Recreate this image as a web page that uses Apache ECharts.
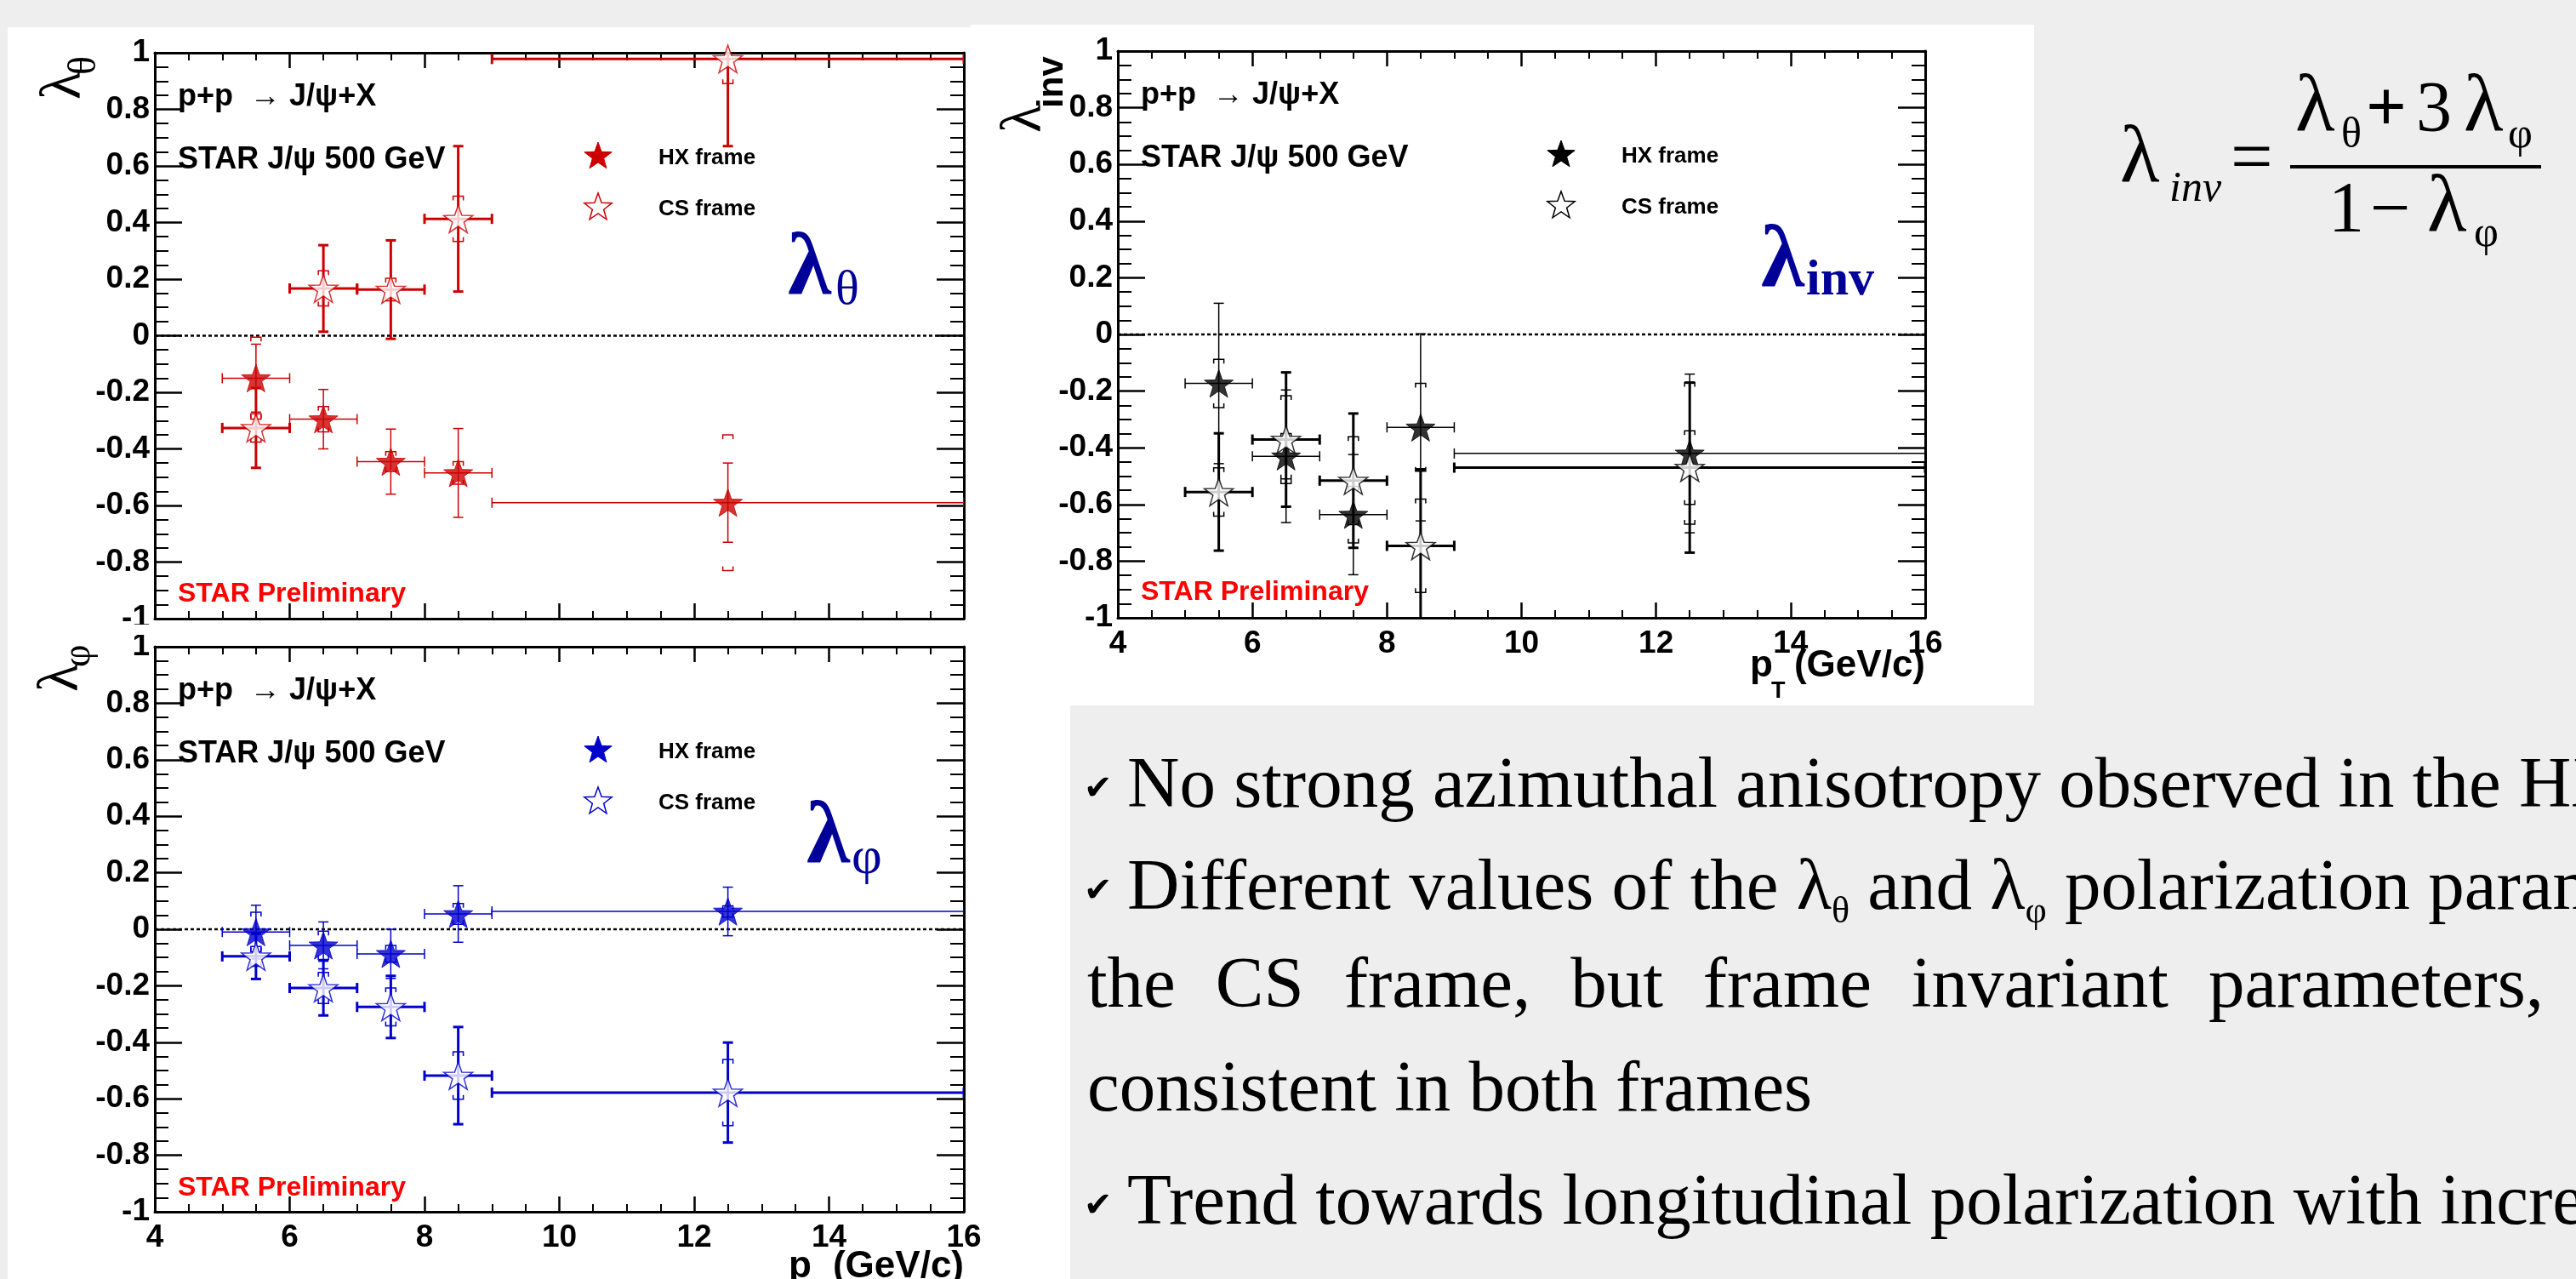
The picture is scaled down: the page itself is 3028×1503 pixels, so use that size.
<!DOCTYPE html>
<html>
<head>
<meta charset="utf-8">
<title>STAR J/psi polarization 500 GeV</title>
<script src="https://cdn.jsdelivr.net/npm/echarts@6/dist/echarts.min.js"></script>
<style>
html, body { margin: 0; padding: 0; background: #eeeeee; }
#main { width: 3028px; height: 1503px; }
</style>
</head>
<body>
<div id="main"></div>
<script>
// pT bins (GeV/c)
const ptCenter = [5.5, 6.5, 7.5, 8.5, 12.5];
const ptLow = [5, 6, 7, 8, 9];
const ptHigh = [6, 7, 8, 9, 16];

// lambda_theta
const thetaHX = [-0.150, -0.295, -0.445, -0.485, -0.590];
const thetaHXStat = [0.120, 0.105, 0.115, 0.157, 0.140];
const thetaHXSys = [0.145, 0.045, 0.035, 0.040, 0.240];
const thetaCS = [-0.326, 0.167, 0.163, 0.413, 0.978];
const thetaCSStat = [0.141, 0.153, 0.174, 0.257, 0.308];
const thetaCSSys = [0.050, 0.062, 0.040, 0.080, 0.087];

// lambda_phi
const phiHX = [-0.010, -0.057, -0.087, 0.054, 0.063];
const phiHXStat = [0.095, 0.083, 0.087, 0.100, 0.086];
const phiHXSys = [0.070, 0.050, 0.030, 0.037, 0.020];
const phiCS = [-0.096, -0.208, -0.275, -0.518, -0.578];
const phiCSStat = [0.080, 0.097, 0.110, 0.172, 0.177];
const phiCSSys = [0.035, 0.055, 0.067, 0.084, 0.117];

// lambda_inv
const invHX = [-0.173, -0.430, -0.636, -0.328, -0.420];
const invHXStat = [0.283, 0.234, 0.212, 0.330, 0.280];
const invHXSys = [0.085, 0.080, 0.100, 0.155, 0.250];
const invCS = [-0.556, -0.371, -0.516, -0.746, -0.470];
const invCSStat = [0.207, 0.237, 0.237, 0.270, 0.300];
const invCSSys = [0.085, 0.155, 0.155, 0.165, 0.130];

const xMin = 4, xMax = 16, xStep = 2;
const yMin = -1, yMax = 1, yStep = 0.2;

const plots = [
    { left: 182, top: 62, width: 951, height: 665, color: '#cc0000', showX: false,
      hx: thetaHX, hxStat: thetaHXStat, hxSys: thetaHXSys, cs: thetaCS, csStat: thetaCSStat, csSys: thetaCSSys },
    { left: 182, top: 760, width: 951, height: 664, color: '#0000cc', showX: true,
      hx: phiHX, hxStat: phiHXStat, hxSys: phiHXSys, cs: phiCS, csStat: phiCSStat, csSys: phiCSSys },
    { left: 1314, top: 60, width: 949, height: 666, color: '#000000', showX: true,
      hx: invHX, hxStat: invHXStat, hxSys: invHXSys, cs: invCS, csStat: invCSStat, csSys: invCSSys }
];

// ROOT-like star marker
function starPts(cx, cy, R, r) {
    const pts = [];
    for (let k = 0; k < 10; k++) {
        const a = -Math.PI / 2 + k * Math.PI / 5;
        const rr = k % 2 === 0 ? R : r;
        pts.push([cx + rr * Math.cos(a), cy + rr * Math.sin(a)]);
    }
    return pts;
}
const starPath = 'path://M' + starPts(50, 50, 50, 20).map(p => p[0].toFixed(2) + ',' + p[1].toFixed(2)).join(' L') + ' Z';

// text helpers
const measureCtx = document.createElement('canvas').getContext('2d');
function fontOf(size, o) {
    return (o.italic ? 'italic ' : '') + (o.weight || 'normal') + ' ' + size + 'px "' + (o.family || 'Liberation Sans') + '"';
}
function textW(str, size, o) {
    measureCtx.font = fontOf(size, o || {});
    return measureCtx.measureText(str).width;
}
function txt(x, base, str, size, o) {
    o = o || {};
    const align = o.align || 'left';
    return {
        type: 'text', x: x, y: base - 0.34 * size, z: o.z || 20, silent: true,
        style: {
            text: str, font: fontOf(size, o), fill: o.color || '#000',
            align: align, textAlign: align, verticalAlign: 'middle', textVerticalAlign: 'middle'
        }
    };
}
// a row of text pieces with their own size and baseline shift
function runs(x, base, parts) {
    const out = [];
    let cx = x;
    parts.forEach(p => {
        const o = p[3] || {};
        out.push(txt(cx, base + p[2], p[0], p[1], o));
        cx += textW(p[0], p[1], o) + (o.after || 0);
    });
    return out;
}

function axesFor(g, p) {
    const axisLine = { show: true, onZero: false, lineStyle: { color: '#000', width: 3 } };
    const label = { color: '#000', fontFamily: 'Liberation Sans', fontWeight: 'bold', fontSize: 37 };
    const xa = (pos, show) => ({
        type: 'value', gridIndex: g, position: pos, min: xMin, max: xMax, interval: xStep,
        axisLine: axisLine, splitLine: { show: false },
        axisTick: { inside: true, length: 18, lineStyle: { color: '#000', width: 2.5 } },
        minorTick: { show: true, splitNumber: 4, length: 9, lineStyle: { color: '#000', width: 2 } },
        axisLabel: Object.assign({ show: show, margin: 12 }, label)
    });
    const ya = (pos, show) => ({
        type: 'value', gridIndex: g, position: pos, min: yMin, max: yMax, interval: yStep,
        axisLine: axisLine, splitLine: { show: false },
        axisTick: { inside: true, length: 32, lineStyle: { color: '#000', width: 2.5 } },
        minorTick: { show: true, splitNumber: 4, length: 16, lineStyle: { color: '#000', width: 2 } },
        axisLabel: Object.assign({ show: show, margin: 6 }, label)
    });
    return { x: [xa('bottom', p.showX), xa('top', false)], y: [ya('left', true), ya('right', false)] };
}

function errorSeries(g, vals, stat, sys, color, width) {
    return {
        type: 'custom', xAxisIndex: 2 * g, yAxisIndex: 2 * g, clip: true, silent: true, z: 3,
        encode: { x: 0, y: 1 },
        data: ptCenter.map((x, i) => [x, vals[i], ptLow[i], ptHigh[i], stat[i], sys[i]]),
        renderItem: function (params, api) {
            const x = api.value(0), y = api.value(1);
            const c = api.coord([x, y]);
            const l = api.coord([api.value(2), y]);
            const r = api.coord([api.value(3), y]);
            const st = api.coord([x, y + api.value(4)]);
            const sb = api.coord([x, y - api.value(4)]);
            const yt = api.coord([x, y + api.value(5)]);
            const yb = api.coord([x, y - api.value(5)]);
            const thick = { stroke: color, lineWidth: width, fill: null };
            const thin = { stroke: color, lineWidth: 1.5, fill: null };
            const seg = (x1, y1, x2, y2, s) => ({ type: 'line', shape: { x1: x1, y1: y1, x2: x2, y2: y2 }, style: s });
            const cap = 6, hcap = 6, bw = 6, leg = 5;
            return {
                type: 'group',
                children: [
                    seg(l[0], c[1], r[0], c[1], thick),
                    seg(l[0], c[1] - hcap, l[0], c[1] + hcap, thick),
                    seg(r[0], c[1] - hcap, r[0], c[1] + hcap, thick),
                    seg(c[0], st[1], c[0], sb[1], thick),
                    seg(c[0] - cap, st[1], c[0] + cap, st[1], thick),
                    seg(c[0] - cap, sb[1], c[0] + cap, sb[1], thick),
                    { type: 'polyline', shape: { points: [[c[0] - bw, yt[1] + leg], [c[0] - bw, yt[1]], [c[0] + bw, yt[1]], [c[0] + bw, yt[1] + leg]] }, style: thin },
                    { type: 'polyline', shape: { points: [[c[0] - bw, yb[1] - leg], [c[0] - bw, yb[1]], [c[0] + bw, yb[1]], [c[0] + bw, yb[1] - leg]] }, style: thin }
                ]
            };
        }
    };
}

function markerSeries(g, vals, color, open) {
    return {
        type: 'scatter', xAxisIndex: 2 * g, yAxisIndex: 2 * g, silent: true, z: 5,
        symbol: starPath, symbolSize: 34, symbolKeepAspect: true,
        itemStyle: open ? { color: '#ffffff', borderColor: color, borderWidth: 1.5 } : { color: color, borderColor: color, borderWidth: 1 },
        data: ptCenter.map((x, i) => [x, vals[i]])
    };
}

const grid = [], xAxis = [], yAxis = [], series = [];
plots.forEach((p, g) => {
    grid.push({ left: p.left, top: p.top, width: p.width, height: p.height });
    const ax = axesFor(g, p);
    xAxis.push(ax.x[0], ax.x[1]);
    yAxis.push(ax.y[0], ax.y[1]);
    series.push({
        type: 'line', xAxisIndex: 2 * g, yAxisIndex: 2 * g, silent: true, symbol: 'none', z: 2,
        data: [[xMin, 0], [xMax, 0]],
        lineStyle: { color: '#000', width: 2.5, type: [4, 3] }
    });
    series.push(errorSeries(g, p.hx, p.hxStat, p.hxSys, p.color, 1.5));
    series.push(errorSeries(g, p.cs, p.csStat, p.csSys, p.color, 3));
    series.push(markerSeries(g, p.hx, p.color, false));
    series.push(markerSeries(g, p.cs, p.color, true));
});

// ---- graphic annotations ----
const els = [];
// white picture panels on the grey slide
els.push({ type: 'rect', z: -10, silent: true, shape: { x: 9, y: 32, width: 1132, height: 1471 }, style: { fill: '#ffffff' } });
els.push({ type: 'rect', z: -10, silent: true, shape: { x: 1141, y: 29, width: 1250, height: 800 }, style: { fill: '#ffffff' } });
els.push({ type: 'rect', z: -10, silent: true, shape: { x: 1141, y: 829, width: 117, height: 674 }, style: { fill: '#ffffff' } });
// lower picture overlaps the bottom edge of the upper one
els.push({ type: 'rect', z: 50, silent: true, shape: { x: 9, y: 734, width: 168, height: 12 }, style: { fill: '#ffffff' } });

const navy = '#000099';
plots.forEach((p, g) => {
    const L = p.left, T = p.top;
    els.push(txt(L + 27, T + 64, 'p+p  \u2192 J/\u03c8+X', 36, { weight: 'bold' }));
    els.push(txt(L + 27, T + 138, 'STAR J/\u03c8 500 GeV', 36, { weight: 'bold' }));
    els.push({ type: 'polygon', z: 20, silent: true, shape: { points: starPts(L + 521, T + 122, 17, 7) }, style: { fill: p.color, stroke: p.color, lineWidth: 1 } });
    els.push({ type: 'polygon', z: 20, silent: true, shape: { points: starPts(L + 521, T + 182, 17, 7) }, style: { fill: '#fff', stroke: p.color, lineWidth: 1.5 } });
    els.push(txt(L + 592, T + 133, 'HX frame', 26, { weight: 'bold' }));
    els.push(txt(L + 592, T + 193, 'CS frame', 26, { weight: 'bold' }));
    els.push(txt(L + 27, T + 647, 'STAR Preliminary', 32, { weight: 'bold', color: '#ff0000' }));
});
// big coloured labels
els.push(txt(926, 354, '\u03bb', 104, { family: 'Liberation Serif', weight: 'bold', color: navy }));
els.push(txt(982, 361, '\u03b8', 58, { family: 'Liberation Serif', color: navy }));
els.push(txt(948, 1022, '\u03bb', 104, { family: 'Liberation Serif', weight: 'bold', color: navy }));
els.push(txt(1001, 1031, '\u03c6', 62, { family: 'Liberation Serif', color: navy }));
els.push(txt(2070, 345, '\u03bb', 104, { family: 'Liberation Serif', weight: 'bold', color: navy }));
els.push(txt(2123, 351, 'inv', 60, { family: 'Liberation Serif', weight: 'bold', color: navy }));

// rotated y titles
function yTitle(x, y, sub, subSize, subDy, subOpt) {
    return {
        type: 'group', x: x, y: y, rotation: Math.PI / 2, silent: true,
        children: runs(0, 0, [['\u03bb', 68, 0, { family: 'Liberation Serif', after: -4 }], [sub, subSize, subDy, subOpt]])
    };
}
els.push(yTitle(99, 117, '\u03b8', 46, 17, { family: 'Liberation Serif' }));
els.push(yTitle(96, 813, '\u03c6', 46, 13, { family: 'Liberation Serif' }));
els.push(yTitle(1228, 156, 'inv', 42, 24, { weight: 'bold' }));

// x titles
function xTitle(right, base) {
    const w = textW('(GeV/c)', 44, { weight: 'bold' });
    return [
        txt(right, base, '(GeV/c)', 44, { weight: 'bold', align: 'right' }),
        txt(right - w - 52, base, 'p', 44, { weight: 'bold' }),
        txt(right - w - 27, base + 24, 'T', 27, { weight: 'bold' })
    ];
}
xTitle(2263, 798).forEach(e => els.push(e));
xTitle(1133, 1504).forEach(e => els.push(e));

// formula
const ser = { family: 'Liberation Serif' };
els.push(txt(2492, 220, '\u03bb', 96, ser));
els.push(txt(2550, 240, 'inv', 50, { family: 'Liberation Serif', italic: true }));
els.push(txt(2622, 220, '=', 88, ser));
els.push({ type: 'rect', z: 20, silent: true, shape: { x: 2692, y: 194, width: 295, height: 4 }, style: { fill: '#000' } });
els.push(txt(2698, 160, '\u03bb', 96, ser));
els.push(txt(2752, 177, '\u03b8', 50, ser));
els.push(txt(2781, 160, '+', 84, { family: 'Liberation Serif', weight: 'bold' }));
els.push(txt(2840, 160, '3', 84, ser));
els.push(txt(2896, 160, '\u03bb', 96, ser));
els.push(txt(2948, 177, '\u03c6', 50, ser));
els.push(txt(2737, 278, '1', 84, ser));
els.push(txt(2786, 278, '\u2212', 84, ser));
els.push(txt(2853, 278, '\u03bb', 96, ser));
els.push(txt(2908, 293, '\u03c6', 50, ser));

// bullet text
const bSize = 85;
const bodyOpt = { family: 'Liberation Serif' };
const tick = '\u2714';
[955, 1075, 1445].forEach(b => els.push(txt(1274, b - 13, tick, 40, { family: 'DejaVu Sans' })));
els.push(txt(1325, 955, 'No strong azimuthal anisotropy observed in the HX frame', bSize, bodyOpt));
runs(1325, 1075, [
    ['Different values of the \u03bb', bSize, 0, bodyOpt],
    ['\u03b8', 44, 12, bodyOpt],
    [' and \u03bb', bSize, 0, bodyOpt],
    ['\u03c6', 44, 12, bodyOpt],
    [' polarization parameters', bSize, 0, bodyOpt]
]).forEach(e => els.push(e));
const justWords = ['the', 'CS', 'frame,', 'but', 'frame', 'invariant', 'parameters,'];
const justStart = 1278, justEnd = 2990;
const justSum = justWords.reduce((s, w) => s + textW(w, bSize, bodyOpt), 0);
const justGap = (justEnd - justStart - justSum) / (justWords.length - 1);
let jx = justStart;
justWords.forEach(w => { els.push(txt(jx, 1190, w, bSize, bodyOpt)); jx += textW(w, bSize, bodyOpt) + justGap; });
els.push(txt(1278, 1312, 'consistent in both frames', bSize, bodyOpt));
els.push(txt(1325, 1445, 'Trend towards longitudinal polarization with increasing p', bSize, bodyOpt));

const chart = echarts.init(document.getElementById('main'), null, { renderer: 'canvas', width: 3028, height: 1503 });
chart.setOption({
    backgroundColor: '#eeeeee',
    animation: false,
    grid: grid,
    xAxis: xAxis,
    yAxis: yAxis,
    series: series,
    graphic: { elements: els }
});
</script>
</body>
</html>
